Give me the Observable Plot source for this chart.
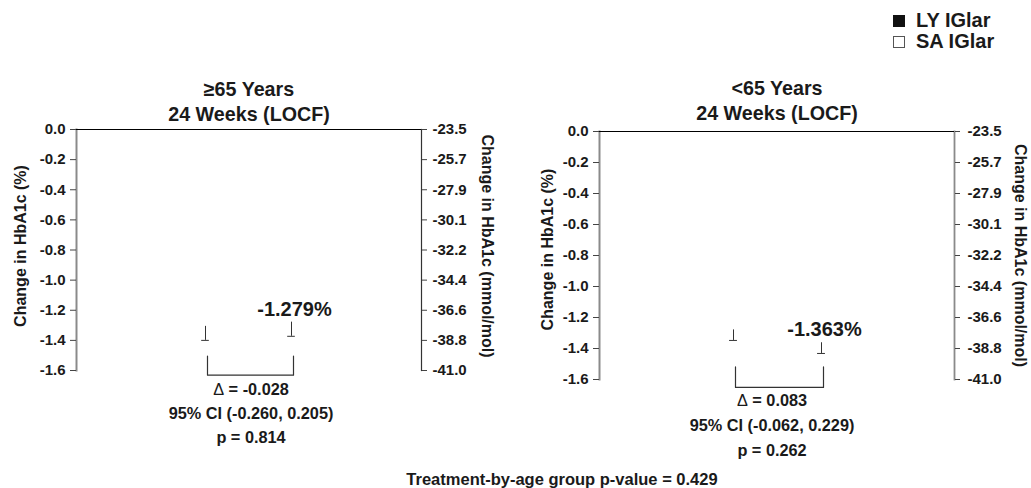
<!DOCTYPE html>
<html><head><meta charset="utf-8">
<script src="https://cdn.jsdelivr.net/npm/d3@7"></script>
<script src="https://cdn.jsdelivr.net/npm/@observablehq/plot@0.6"></script>
<style>
body{margin:0;background:#fff;}
#wrap{position:relative;width:1031px;height:488px;font-family:"Liberation Sans",Arial,Helvetica,sans-serif;font-weight:bold;color:#1a1a1a;overflow:hidden;}
.panel{position:absolute;top:0;}
.legrow{position:absolute;left:893px;height:21px;display:flex;align-items:center;font-size:20px;line-height:21px;white-space:nowrap;}
.sw{width:12px;height:12px;box-sizing:border-box;margin-right:11px;}
#footer{position:absolute;left:62px;width:1000px;top:471px;text-align:center;font-size:16.5px;line-height:16px;white-space:nowrap;}
</style></head><body>
<div id="wrap"></div>
<script>
// ---- data ----
const treatments = ["LY IGlar", "SA IGlar"];
const swatchFill = ["#111111", "#ffffff"];
const panelTitles = ["≥65 Years", "<65 Years"];
const subtitle = "24 Weeks (LOCF)";
const meansOld = [-1.307, -1.279];
const seOld = [0.093, 0.094];
const meansYoung = [-1.280, -1.363];
const seYoung = [0.068, 0.069];
const valueLabels = ["-1.279%", "-1.363%"];
const yTicks = [0, -0.2, -0.4, -0.6, -0.8, -1.0, -1.2, -1.4, -1.6];
const mmolLabels = ["-23.5", "-25.7", "-27.9", "-30.1", "-32.2", "-34.4", "-36.6", "-38.8", "-41.0"];
const deltaOld = ["\u0394 = -0.028", "95% CI (-0.260, 0.205)", "p = 0.814"];
const deltaYoung = ["\u0394 = 0.083", "95% CI (-0.062, 0.229)", "p = 0.262"];
const bracketTop = [-1.505, -1.519];
const bracketBottom = [-1.631, -1.651];
const leftAxisTitle = "Change in HbA1c (%)";
const rightAxisTitle = "Change in HbA1c (mmol/mol)";
const footerText = "Treatment-by-age group p-value = 0.429";

const FONT = '"Liberation Sans", Arial, Helvetica, sans-serif';

function panel(cfg) {
  const data = treatments.map((t, i) => ({t, mean: cfg.means[i], lo: cfg.means[i] - cfg.se[i]}));
  const bracket = [
    {t: treatments[0], y: bracketTop[cfg.k]},
    {t: treatments[0], y: bracketBottom[cfg.k]},
    {t: treatments[1], y: bracketBottom[cfg.k]},
    {t: treatments[1], y: bracketTop[cfg.k]}
  ];
  const fw = cfg.width - cfg.ml - cfg.mr;
  const bw = fw / 4 * 0.7;
  const capInset = (bw - 8) / 2;
  const mmol = new Map(yTicks.map((v, i) => [v, mmolLabels[i]]));
  const marks = [
    Plot.barY(data, {x: "t", y: "mean", fill: "white"}),
    Plot.ruleX(data, {x: "t", y1: "mean", y2: "lo", stroke: "#333", strokeWidth: 1}),
    Plot.tickY(data, {x: "t", y: "lo", stroke: "#333", strokeWidth: 1, insetLeft: capInset, insetRight: capInset}),
    Plot.line(bracket, {x: "t", y: "y", stroke: "#333", strokeWidth: 1.2, dx: 2}),
    Plot.frame({anchor: "left", stroke: "#8a8a8a", strokeWidth: 2}),
    Plot.frame({anchor: "right", stroke: cfg.rightStroke, strokeWidth: cfg.rightWidth}),
    Plot.ruleY([0], {stroke: "#000", strokeWidth: 1}),
    Plot.axisY({anchor: "left", ticks: yTicks, tickFormat: d => d.toFixed(1), tickSize: 6, tickPadding: 5, fontSize: 15, fontWeight: "bold", label: null, stroke: "#444", fill: "#1a1a1a"}),
    Plot.axisY({anchor: "right", ticks: yTicks, tickFormat: d => mmol.get(d), tickSize: 5, tickPadding: cfg.rpad, fontSize: 15, fontWeight: "bold", label: null, stroke: "#444", fill: "#1a1a1a"}),
    Plot.text([panelTitles[cfg.k]], {frameAnchor: "top", dy: cfg.t1, fontSize: 19.7, fontWeight: "bold", lineAnchor: "middle", fill: "#1a1a1a"}),
    Plot.text([subtitle], {frameAnchor: "top", dy: cfg.t2, fontSize: 19.7, fontWeight: "bold", lineAnchor: "middle", fill: "#1a1a1a"}),
    Plot.text([leftAxisTitle], {frameAnchor: "left", textAnchor: "middle", rotate: -90, dx: cfg.lx, dy: cfg.ly, fontSize: 16, fontWeight: "bold", lineAnchor: "middle", fill: "#1a1a1a"}),
    Plot.text([rightAxisTitle], {frameAnchor: "right", textAnchor: "middle", rotate: 90, dx: 66, dy: cfg.ry, fontSize: 16, fontWeight: "bold", lineAnchor: "middle", fill: "#1a1a1a"}),
    Plot.text([data[1]], {x: "t", y: "mean", text: () => valueLabels[cfg.k], dx: 3, dy: -13, fontSize: 20, fontWeight: "bold", lineAnchor: "middle", fill: "#1a1a1a"})
  ];
  cfg.delta.forEach((line, i) => {
    marks.push(Plot.text([line], {frameAnchor: "bottom", textAnchor: "middle", dx: cfg.ddx, dy: cfg.d0 + i * cfg.ds, fontSize: 16.3, fontWeight: "bold", lineAnchor: "middle", fill: "#1a1a1a"}));
  });
  const svg = Plot.plot({
    width: cfg.width, height: 488,
    marginLeft: cfg.ml, marginRight: cfg.mr, marginTop: cfg.mt, marginBottom: cfg.mb,
    x: {type: "band", domain: treatments, paddingInner: 0.3, paddingOuter: 1.15, axis: null},
    y: {domain: [-1.6, 0], axis: null},
    style: {fontFamily: FONT, background: "transparent", overflow: "visible"},
    marks
  });
  // render the delta symbol in a light weight, as in the reference
  svg.querySelectorAll("text").forEach(el => {
    const s = el.textContent;
    if (s.startsWith("\u0394") && el.children.length === 0) {
      el.textContent = "";
      const a = document.createElementNS("http://www.w3.org/2000/svg", "tspan");
      a.setAttribute("font-weight", "normal");
      a.textContent = "\u0394";
      const b = document.createElementNS("http://www.w3.org/2000/svg", "tspan");
      b.textContent = s.slice(1);
      el.appendChild(a); el.appendChild(b);
    }
  });
  svg.classList.add("panel");
  svg.style.left = cfg.left + "px";
  return svg;
}

const wrap = document.getElementById("wrap");
wrap.appendChild(panel({k: 0, left: 0, width: 515, ml: 76, mr: 94, mt: 129, mb: 118,
  means: meansOld, se: seOld, delta: deltaOld, rightStroke: "#333", rightWidth: 1.2, rpad: 6,
  t1: -40, t2: -15, lx: -56, ly: -4, ry: -4, ddx: 2, d0: 19, ds: 24}));
wrap.appendChild(panel({k: 1, left: 515, width: 516, ml: 84, mr: 77, mt: 131, mb: 109,
  means: meansYoung, se: seYoung, delta: deltaYoung, rightStroke: "#8a8a8a", rightWidth: 1.8, rpad: 8,
  t1: -43, t2: -18, lx: -52, ly: -6, ry: 0, ddx: -5, d0: 21.5, ds: 25}));

treatments.forEach((t, i) => {
  const row = document.createElement("div");
  row.className = "legrow";
  row.style.top = (10 + i * 21) + "px";
  const sw = document.createElement("div");
  sw.className = "sw";
  sw.style.background = swatchFill[i];
  sw.style.border = "1px solid " + (i === 0 ? "#111" : "#555");
  row.appendChild(sw);
  row.appendChild(document.createTextNode(t));
  wrap.appendChild(row);
});

const foot = document.createElement("div");
foot.id = "footer";
foot.textContent = footerText;
wrap.appendChild(foot);
</script>
</body></html>
